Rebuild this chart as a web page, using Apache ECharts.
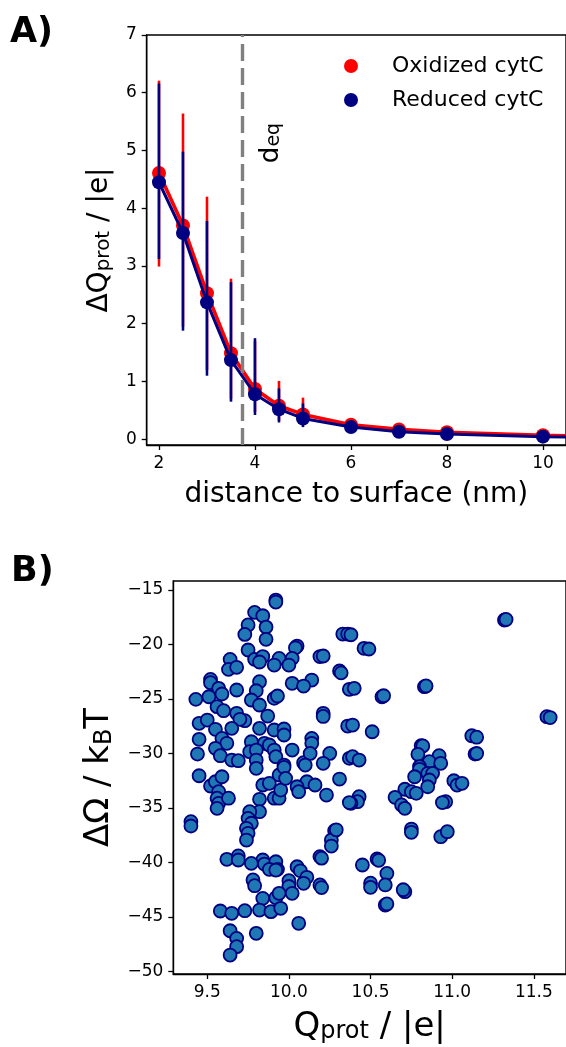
<!DOCTYPE html>
<html><head><meta charset="utf-8">
<script src="https://cdn.jsdelivr.net/npm/echarts@6/dist/echarts.min.js"></script>
<style>html,body{margin:0;padding:0;background:#fff}#c{width:566px;height:1047px}</style>
</head><body><div id="c"></div>
<script>
// ---------- Panel A data ----------
const distances = [2, 2.5, 3, 3.5, 4, 4.5, 5, 6, 7, 8, 10, 12];
const oxMean  = [4.61, 3.70, 2.53, 1.49, 0.87, 0.58, 0.43, 0.25, 0.17, 0.12, 0.07, 0.03];
const oxLow   = [2.99, 1.95, 1.20, 0.70, 0.47, 0.32, 0.24, 0.16, 0.11, 0.08, 0.05, 0.02];
const oxHigh  = [6.21, 5.64, 4.20, 2.78, 1.70, 1.01, 0.72, 0.33, 0.22, 0.15, 0.09, 0.05];
const redMean = [4.45, 3.57, 2.37, 1.37, 0.78, 0.52, 0.36, 0.21, 0.13, 0.09, 0.045, 0.01];
const redLow  = [3.12, 1.88, 1.10, 0.65, 0.42, 0.29, 0.21, 0.13, 0.09, 0.06, 0.03, 0.005];
const redHigh = [6.16, 4.98, 3.78, 2.72, 1.75, 0.88, 0.62, 0.29, 0.18, 0.12, 0.06, 0.02];
const dEq = 3.74;
const xTicksA = [2, 4, 6, 8, 10];
const yTicksA = [0, 1, 2, 3, 4, 5, 6, 7];
const seriesNames = ['Oxidized cytC', 'Reduced cytC'];

// ---------- Panel B data: [Q_prot, ΔΩ] ----------
const scatterPts = [
[9.92,-15.92],[9.92,-16.1],[9.79,-17.05],[9.84,-17.36],[9.75,-18.2],[9.86,-18.4],[9.73,-19.07],[9.86,-19.52],
[10.05,-20.14],[10.04,-20.3],[9.75,-20.5],[10.19,-21.1],[10.21,-21.05],
[9.64,-21.36],[9.79,-21.36],[9.84,-21.1],[9.82,-21.6],[9.94,-21.27],[10.02,-21.27],[10.00,-21.88],[9.91,-21.88],
[9.63,-22.28],[9.68,-22.09],[10.31,-22.43],[10.32,-22.6],
[9.52,-23.2],[9.52,-23.5],[9.82,-23.41],[10.02,-23.56],[10.14,-23.26],[10.09,-23.81],
[9.57,-24.02],[9.68,-24.17],[9.80,-24.24],[10.37,-24.11],[10.40,-24.02],
[9.43,-25.03],[9.51,-24.79],[9.59,-24.54],[9.77,-25.09],[9.82,-25.55],[9.91,-24.94],[9.93,-24.72],
[9.56,-25.7],[9.60,-26.07],[9.68,-26.31],[9.87,-26.56],[10.21,-26.31],[10.21,-26.6],[9.73,-26.99],[9.70,-26.86],
[9.45,-27.23],[9.50,-26.93],[9.55,-27.78],[9.65,-27.69],[9.82,-27.69],[9.91,-27.84],[9.97,-27.75],[9.97,-28.3],[10.36,-27.48],[10.39,-27.39],
[9.45,-28.7],[9.59,-28.61],[9.62,-29.06],[9.77,-28.92],[9.85,-29.06],[9.88,-29.22],[9.91,-29.68],[10.02,-29.68],[10.14,-28.61],[10.14,-29.06],
[9.44,-30.05],[9.55,-29.52],[9.58,-30.2],[9.65,-30.6],[9.69,-30.66],[9.76,-29.83],[9.80,-29.68],[9.80,-30.6],[9.92,-30.29],[9.97,-31.06],
[10.09,-30.84],[10.13,-29.99],[10.25,-29.99],[10.21,-30.9],[10.37,-30.44],[10.39,-30.29],
[10.33,-19.04],[10.36,-19.04],[10.38,-19.1],[11.32,-17.75],[11.33,-17.7],[10.46,-20.35],[10.49,-20.41],
[10.57,-24.79],[10.58,-24.7],[10.83,-23.87],[10.84,-23.8],[10.51,-28.0],[11.58,-26.62],[11.60,-26.7],
[11.12,-28.37],[11.15,-28.5],[11.14,-30.05],[11.15,-30.0],[10.81,-29.28],[10.82,-29.3],[10.79,-30.07],[10.92,-30.2],
[10.43,-30.6],[10.86,-30.75],[10.93,-30.9],[10.80,-31.2],
[10.80,-31.45],[10.85,-31.82],[10.88,-31.82],[10.77,-32.13],[10.86,-32.43],[10.85,-33.05],
[11.01,-32.5],[11.03,-32.9],[11.06,-32.73],[10.71,-33.28],[10.75,-33.5],[10.78,-33.65],[10.65,-34.02],[10.69,-34.72],[10.71,-35.03],
[10.43,-33.96],[10.42,-34.42],[10.38,-34.57],[10.96,-34.42],[10.94,-34.5],
[10.75,-36.93],[10.75,-37.23],[10.93,-37.63],[10.97,-37.17],
[10.45,-40.23],[10.54,-39.68],[10.55,-39.8],[10.60,-41.0],[10.59,-42.06],[10.50,-41.9],[10.50,-42.28],[10.71,-42.68],[10.70,-42.5],[10.59,-43.9],[10.60,-43.8],
[9.45,-32.04],[9.52,-32.98],[9.55,-32.59],[9.59,-32.13],[9.57,-33.5],[9.56,-34.1],[9.57,-34.57],[9.56,-35.03],[9.63,-34.1],[9.40,-36.25],[9.40,-36.65],
[9.80,-31.36],[9.84,-32.89],[9.88,-32.73],[9.82,-34.2],[9.91,-34.1],[9.94,-34.1],[9.95,-33.35],[9.94,-31.97],[9.97,-31.27],[9.98,-32.28],
[10.10,-31.06],[10.11,-32.59],[10.05,-33.05],[10.06,-33.5],[10.16,-32.89],[10.23,-33.81],[10.31,-32.34],[10.37,-34.5],
[9.82,-35.34],[9.76,-35.34],[9.75,-35.95],[9.77,-36.4],[9.74,-36.86],[9.75,-37.32],[9.74,-37.94],
[10.28,-37.08],[10.26,-37.94],[10.26,-38.49],[10.29,-37.0],
[9.84,-39.77],[9.85,-40.14],[9.92,-39.93],[9.93,-40.63],[9.88,-40.63],[9.92,-40.69],[9.62,-39.71],[9.69,-39.4],[9.69,-39.77],[9.77,-40.08],
[10.05,-40.39],[10.07,-40.76],[10.11,-41.36],[10.09,-41.91],[10.19,-39.46],[10.20,-39.6],[10.19,-42.06],[10.20,-42.3],
[10.00,-41.67],[10.00,-42.2],[10.02,-42.83],[9.78,-41.6],[9.79,-42.13],
[9.84,-43.29],[9.92,-43.23],[9.94,-42.83],[9.82,-44.36],[9.89,-44.51],[9.95,-44.2],[9.58,-44.45],[9.65,-44.66],[9.73,-44.42],
[10.06,-45.58],[9.80,-46.5],[9.64,-46.26],[9.68,-46.96],[9.68,-47.72],[9.64,-48.49]
];
const xTicksB = [9.5, 10.0, 10.5, 11.0, 11.5];
const yTicksB = [-50, -45, -40, -35, -30, -25, -20, -15];

// ---------- chart ----------
const FONT = 'DejaVu Sans';
const chart = echarts.init(document.getElementById('c'), null, {renderer: 'canvas'});
const axisLineStyle = {color: '#000', width: 1.4};
const minus = v => String(v).replace('-', '\u2212');

function errSeries(lows, highs, color, z) {
  return {
    type: 'custom', xAxisIndex: 0, yAxisIndex: 0, z: z, silent: true, clip: true,
    data: distances.map((d, i) => [d, lows[i], highs[i]]),
    renderItem: function (params, api) {
      const p1 = api.coord([api.value(0), api.value(1)]);
      const p2 = api.coord([api.value(0), api.value(2)]);
      return {type: 'line', shape: {x1: p1[0], y1: p1[1], x2: p2[0], y2: p2[1]},
              style: {stroke: color, lineWidth: 2.6}};
    }
  };
}

function valAxis(gi, min, max, ticks, fmt, nameRich, name, nameGap, nameSize, extra) {
  return Object.assign({
    type: 'value', gridIndex: gi, min: min, max: max,
    splitLine: {show: false},
    axisLine: {show: true, onZero: false, lineStyle: axisLineStyle},
    axisTick: {show: true, customValues: ticks, length: 5, lineStyle: {color: '#000', width: 1.3}},
    axisLabel: {customValues: ticks, formatter: fmt, fontSize: 17, color: '#000', fontFamily: FONT, margin: 10},
    name: name, nameLocation: 'middle', nameGap: nameGap,
    nameTextStyle: {fontSize: nameSize, color: '#000', fontFamily: FONT, rich: nameRich}
  }, extra || {});
}

const richA = {a: {fontSize: 28, lineHeight: 28, fontFamily: FONT, color: '#000'},
               s: {fontSize: 20, lineHeight: 15, verticalAlign: 'bottom', fontFamily: FONT, color: '#000'}};
const richB = {a: {fontSize: 34, lineHeight: 34, fontFamily: FONT, color: '#000'},
               s: {fontSize: 24, lineHeight: 18, verticalAlign: 'bottom', fontFamily: FONT, color: '#000'}};

const option = {
  animation: false,
  backgroundColor: '#fff',
  textStyle: {fontFamily: FONT},
  grid: [
    {left: 146.7, top: 35, right: 0, height: 410, show: true, borderColor: '#000', borderWidth: 1.4, backgroundColor: 'transparent', containLabel: false, outerBoundsMode: 'none'},
    {left: 173.3, top: 581, right: 0, height: 393, show: true, borderColor: '#000', borderWidth: 1.4, backgroundColor: 'transparent', containLabel: false, outerBoundsMode: 'none'}
  ],
  xAxis: [
    valAxis(0, 1.744, 10.48, xTicksA, v => String(v), richA, 'distance to surface (nm)', 36, 28),
    valAxis(1, 9.292, 11.697, xTicksB, v => v.toFixed(1), richB, '{a|Q}{s|prot}{a| / |e|}', 36, 34)
  ],
  yAxis: [
    valAxis(0, -0.1, 7, yTicksA, v => minus(v), richA, '{a|\u0394Q}{s|prot}{a| / |e|}', 33, 28),
    valAxis(1, -50.23, -14.17, yTicksB, v => minus(v), richB, '{a|\u0394\u03A9 / k}{s|B}{a|T}', 52, 34)
  ],
  legend: {
    orient: 'vertical', left: 339, top: 50, itemWidth: 72, itemHeight: 14, itemGap: 12,
    icon: 'circle', data: seriesNames,
    textStyle: {fontSize: 22, color: '#000', fontFamily: FONT}
  },
  graphic: [
    {type: 'text', left: 10, top: 15, style: {text: 'A)', font: 'bold 35px "DejaVu Sans"', fill: '#000'}},
    {type: 'text', left: 11, top: 554, style: {text: 'B)', font: 'bold 35px "DejaVu Sans"', fill: '#000'}},
    {type: 'text', x: 271, y: 143, rotation: Math.PI / 2,
     style: {text: '{d|d}{e|eq}', align: 'center', verticalAlign: 'middle',
             rich: {d: {fontSize: 26, lineHeight: 26, fontFamily: FONT, fill: '#000'},
                    e: {fontSize: 19, lineHeight: 12, verticalAlign: 'bottom', fontFamily: FONT, fill: '#000'}}}}
  ],
  series: [
    errSeries(oxLow, oxHigh, '#ff0000', 1),
    {name: seriesNames[0], type: 'line', xAxisIndex: 0, yAxisIndex: 0, z: 2, clip: true,
     data: distances.map((d, i) => [d, oxMean[i]]),
     symbol: 'circle', symbolSize: 14, showAllSymbol: true,
     itemStyle: {color: '#ff0000'}, lineStyle: {color: '#ff0000', width: 3.6}},
    errSeries(redLow, redHigh, '#000080', 3),
    {name: seriesNames[1], type: 'line', xAxisIndex: 0, yAxisIndex: 0, z: 4, clip: true,
     data: distances.map((d, i) => [d, redMean[i]]),
     symbol: 'circle', symbolSize: 14, showAllSymbol: true,
     itemStyle: {color: '#000080'}, lineStyle: {color: '#000080', width: 3}},
    {type: 'line', xAxisIndex: 0, yAxisIndex: 0, z: 6, silent: true, symbol: 'none',
     data: [[dEq, -0.1], [dEq, 7]],
     lineStyle: {color: '#808080', width: 3.4, type: [17, 7]}},
    {type: 'scatter', xAxisIndex: 1, yAxisIndex: 1, z: 2, data: scatterPts,
     symbol: 'circle', symbolSize: 13,
     itemStyle: {color: '#1f77b4', borderColor: '#000080', borderWidth: 1.8, opacity: 1}}
  ]
};
chart.setOption(option);
</script>
</body></html>
